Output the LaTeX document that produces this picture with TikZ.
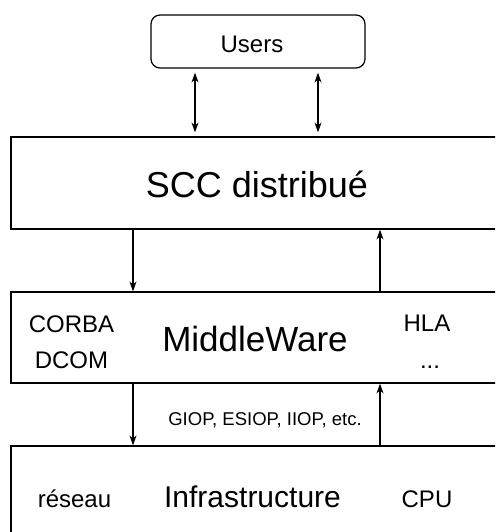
\documentclass[tikz,border=0pt]{standalone}
\usepackage{fontspec}
\setmainfont{Liberation Sans}
\usetikzlibrary{arrows.meta}

\tikzset{
  layer/.style={draw, line width=1.2pt, inner sep=0pt},
  small/.style={anchor=base, inner sep=0pt, font=\fontsize{24}{24}\selectfont},
  big/.style={anchor=base, inner sep=0pt, font=\fontsize{35}{35}\selectfont},
  link/.style={line width=1.1pt, -{Stealth[length=10pt,width=7pt]}},
  dlink/.style={line width=1.1pt, {Stealth[length=10pt,width=7pt]}-{Stealth[length=10pt,width=7pt]},
    shorten <=4pt, shorten >=4pt}
}

\begin{document}
\begin{tikzpicture}[x=1pt,y=-1pt]
      \useasboundingbox (0,0) rectangle (495,532);
      \clip (0,0) rectangle (495,532);
      % layers
      \node[layer, rounded corners=9pt, minimum width=214pt, minimum height=53pt] (users) at (258,41.5) {};
      \node[layer, minimum width=509pt, minimum height=92pt] (scc) at (265.5,183) {};
      \node[layer, minimum width=509pt, minimum height=91pt] (mw) at (265.5,337.5) {};
      \node[layer, minimum width=509pt, minimum height=114pt] (infra) at (265.5,503) {};
      % texts
      \node[small] (usr) at (252,53) {Users};
      \node[big, font=\fontsize{36}{36}\selectfont] (scctxt) at (257,197) {SCC distribué};
      \node[big] (mwtxt) at (255,351) {MiddleWare};
      \node[small] (corba) at (71.5,332) {CORBA};
      \node[small] (dcom) at (71.5,368) {DCOM};
      \node[small] (hla) at (427,331) {HLA};
      \node[small] (etc) at (430,368) {...};
      \node[small, font=\fontsize{18.5}{18.5}\selectfont] (giop) at (265,425) {GIOP, ESIOP, IIOP, etc.};
      \node[big, font=\fontsize{30}{30}\selectfont] (inftxt) at (252.5,507) {Infrastructure};
      \node[small] (res) at (74.5,507) {réseau};
      \node[small] (cpu) at (427,507) {CPU};
      % arrows
      \coordinate (a) at (195,0);
      \coordinate (b) at (318,0);
      \coordinate (l) at (133,0);
      \coordinate (r) at (380,0);
      \draw[dlink] (users.south -| a) -- (scc.north -| a);
      \draw[dlink] (users.south -| b) -- (scc.north -| b);
      \draw[link] (scc.south -| l) -- (mw.north -| l);
      \draw[link] (mw.north -| r) -- (scc.south -| r);
      \draw[link] (mw.south -| l) -- (infra.north -| l);
      \draw[link] (infra.north -| r) -- (mw.south -| r);
    \end{tikzpicture}
\end{document}
